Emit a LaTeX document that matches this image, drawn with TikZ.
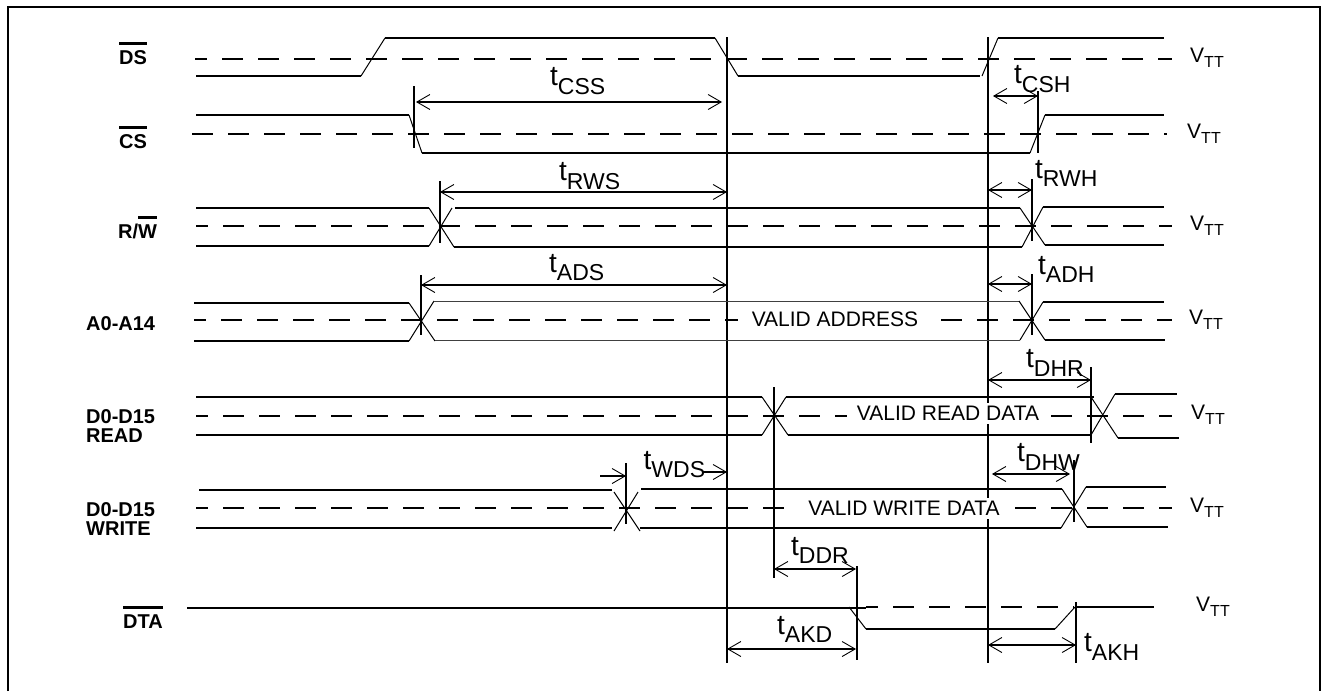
\documentclass[tikz,border=0pt]{standalone}
\usepackage{fontspec}
\setmainfont{Liberation Sans}
\usetikzlibrary{arrows.meta}

% timing label: t with a subscript
\newcommand{\tlab}[1]{t\raisebox{-8.8pt}{\fontsize{23}{23}\selectfont #1}}
\newcommand{\vtt}{V\raisebox{-5pt}{\fontsize{16}{16}\selectfont TT}}
% active low signal name
\newcommand{\barred}[1]{\vbox{\hrule height 3pt\kern 5.5pt\hbox{#1}}}

\begin{document}
\begin{tikzpicture}[
		x=1pt, y=-1pt,
		>={Straight Barb[length=13pt,width=15pt,line width=0.9pt]},
		wave/.style={line width=1.7pt},
		edgeline/.style={line width=1pt},
		level/.style={line width=1.7pt, dash pattern=on 21pt off 15pt},
		short/.style={dash phase=9pt},
		marker/.style={line width=1.7pt},
		span/.style={line width=1.5pt, <->},
		halfspan/.style={line width=1.2pt, ->},
		sig/.style={font=\bfseries\fontsize{20}{20}\selectfont, inner sep=0pt, anchor=base west},
		timing/.style={font=\fontsize{28}{28}\selectfont, inner sep=0pt, anchor=base west},
		reflevel/.style={font=\fontsize{21}{21}\selectfont, inner sep=0pt, anchor=base west},
		valid/.style={font=\fontsize{21}{21}\selectfont, inner xsep=10pt, inner ysep=2pt, text height=15pt, text depth=2pt, fill=white, anchor=base}
	]
	\useasboundingbox (0,0) rectangle (1324,691);
	\draw[line width=2pt] (8,691) -- (8,7) -- (1320,7) -- (1320,691);

	% reference levels
	\draw[level, short] (195,59) -- (1172,59);
	\draw[level] (192,134) -- (1167,134);
	\draw[level, short] (196,226) -- (1172,226);
	\draw[level, short] (194,320) -- (1172,320);
	\draw[level, short] (196,416) -- (1172,416);
	\draw[level, short] (196,508) -- (1172,508);
	\draw[level, short] (866,607) -- (1074,607);

	% long time lines
	\draw[marker] (727,37) -- (727,663);
	\draw[marker] (988,37) -- (988,663);

	% DS
	\draw[wave] (196,76) -- (361,76);
	\draw[edgeline] (361,76) -- (385,38);
	\draw[wave] (385,38) -- (715,38);
	\draw[edgeline] (715,38) -- (738,76);
	\draw[wave] (738,76) -- (980,76);
	\draw[edgeline] (982,76) -- (998,38);
	\draw[wave] (998,38) -- (1164,38);

	% CS
	\draw[wave] (196,115) -- (409,115);
	\draw[edgeline] (409,115) -- (422,153);
	\draw[wave] (422,153) -- (1030,153);
	\draw[edgeline] (1030,153) -- (1045,115);
	\draw[wave] (1045,115) -- (1164,115);

	% R/W
	\draw[wave] (196,208) -- (429,208);
	\draw[wave] (196,246) -- (429,246);
	\draw[edgeline] (429,208) -- (454,247);
	\draw[edgeline] (429,246) -- (452,208);
	\draw[wave] (455,208) -- (1020,208);
	\draw[wave] (454,247) -- (1022,247);
	\draw[edgeline] (1020,208) -- (1045,245);
	\draw[edgeline] (1022,247) -- (1043,207);
	\draw[wave] (1043,207) -- (1164,207);
	\draw[wave] (1045,245) -- (1164,245);

	% A0-A14
	\draw[wave] (194,303) -- (409,303);
	\draw[wave] (194,341) -- (409,341);
	\draw[edgeline] (409,303) -- (435,341);
	\draw[edgeline] (409,341) -- (434,301);
	\draw[edgeline, black!75] (434,301) -- (1019,301);
	\draw[edgeline, black!75] (435,340) -- (1020,340);
	\draw[edgeline] (1019,301) -- (1045,340);
	\draw[edgeline] (1020,340) -- (1043,302);
	\draw[wave] (1043,302) -- (1164,302);
	\draw[wave] (1045,340) -- (1165,340);

	% D0-D15 READ
	\draw[wave] (196,397) -- (762,397);
	\draw[wave] (196,435) -- (762,435);
	\draw[edgeline] (762,397) -- (788,435);
	\draw[edgeline] (762,435) -- (786,397);
	\draw[wave] (786,397) -- (1094,397);
	\draw[wave] (788,435) -- (1091,435);
	\draw[edgeline] (1091,397) -- (1118,438);
	\draw[edgeline] (1091,435) -- (1115,394);
	\draw[wave] (1115,394) -- (1177,394);
	\draw[wave] (1118,438) -- (1179,438);

	% D0-D15 WRITE
	\draw[wave] (199,490) -- (612,490);
	\draw[wave] (196,528) -- (612,528);
	\draw[edgeline] (614,492) -- (640,531);
	\draw[edgeline] (614,531) -- (638,492);
	\draw[wave] (641,489) -- (1062,489);
	\draw[wave] (640,528) -- (1061,528);
	\draw[edgeline] (1062,489) -- (1087,527);
	\draw[edgeline] (1061,528) -- (1086,487);
	\draw[wave] (1086,487) -- (1166,487);
	\draw[wave] (1087,527) -- (1168,527);

	% DTA
	\draw[wave] (187,608) -- (866,608);
	\draw[edgeline] (849,607) -- (866,629);
	\draw[wave] (866,629) -- (1055,629);
	\draw[edgeline] (1055,629) -- (1075,607);
	\draw[wave] (1076,607) -- (1154,607);

	% markers
	\draw[marker] (414,86) -- (414,148);
	\draw[marker] (1038,91) -- (1038,153);
	\draw[marker] (440,181) -- (440,243);
	\draw[marker] (1032,179) -- (1032,241);
	\draw[marker] (421,275) -- (421,335);
	\draw[marker] (1032,274) -- (1032,335);
	\draw[marker] (774,387) -- (774,578);
	\draw[marker] (1091,367) -- (1091,443);
	\draw[marker] (626,463) -- (626,524);
	\draw[marker] (1074,460) -- (1074,522);
	\draw[marker] (857,566) -- (857,660);
	\draw[marker] (1076,602) -- (1076,663);

	% time spans
	\draw[span] (416,102) -- (722,102);
	\draw[span] (993,96) -- (1038,96);
	\draw[span] (440,192) -- (727,192);
	\draw[span] (988,190) -- (1032,190);
	\draw[span] (421,285) -- (727,285);
	\draw[span] (988,284) -- (1032,284);
	\draw[span] (988,380) -- (1091,380);
	\draw[halfspan] (600,476) -- (626,476);
	\draw[halfspan] (702,472) -- (727,472);
	\draw[span] (992,474) -- (1070,474);
	\draw[span] (774,569) -- (856,569);
	\draw[span] (727,649) -- (856,649);
	\draw[span] (988,645) -- (1076,645);

	% signal names
	\node[sig] (ds) at (119,64) {\barred{DS}};
	\node[sig] (cs) at (119,148.5) {\barred{CS}};
	\node[sig] (rw) at (118,238) {R/\barred{W}};
	\node[sig] (addr) at (86,330) {A0-A14};
	\node[sig] (rd1) at (86,423) {D0-D15};
	\node[sig] (rd2) at (86,442) {READ};
	\node[sig] (wr1) at (86,516) {D0-D15};
	\node[sig] (wr2) at (86,535) {WRITE};
	\node[sig] (dta) at (123,628) {\barred{DTA}};

	% data labels
	\node[valid, inner xsep=14pt] (vaddr) at (835,326) {VALID ADDRESS};
	\node[valid] (vread) at (948,420) {VALID READ DATA};
	\node[valid] (vwrite) at (904,515) {VALID WRITE DATA};

	% timing names
	\node[timing] (tcss) at (550,85.5) {\tlab{CSS}};
	\node[timing] (tcsh) at (1014,83.5) {\tlab{CSH}};
	\node[timing] (trws) at (559,180.5) {\tlab{RWS}};
	\node[timing] (trwh) at (1035,178) {\tlab{RWH}};
	\node[timing] (tads) at (549,272) {\tlab{ADS}};
	\node[timing] (tadh) at (1038,274) {\tlab{ADH}};
	\node[timing] (tdhr) at (1026,367.5) {\tlab{DHR}};
	\node[timing] (twds) at (643.5,469) {\tlab{WDS}};
	\node[timing] (tdhw) at (1017,461.5) {\tlab{DHW}};
	\node[timing] (tddr) at (791,555) {\tlab{DDR}};
	\node[timing] (takd) at (777,634) {\tlab{AKD}};
	\node[timing] (takh) at (1084,651.5) {\tlab{AKH}};

	% reference level names
	\node[reflevel] (v1) at (1190,62.7) {\vtt};
	\node[reflevel] (v2) at (1187,138) {\vtt};
	\node[reflevel] (v3) at (1190,230) {\vtt};
	\node[reflevel] (v4) at (1189,324) {\vtt};
	\node[reflevel] (v5) at (1191,419) {\vtt};
	\node[reflevel] (v6) at (1190,512) {\vtt};
	\node[reflevel] (v7) at (1196,611) {\vtt};
\end{tikzpicture}
\end{document}
